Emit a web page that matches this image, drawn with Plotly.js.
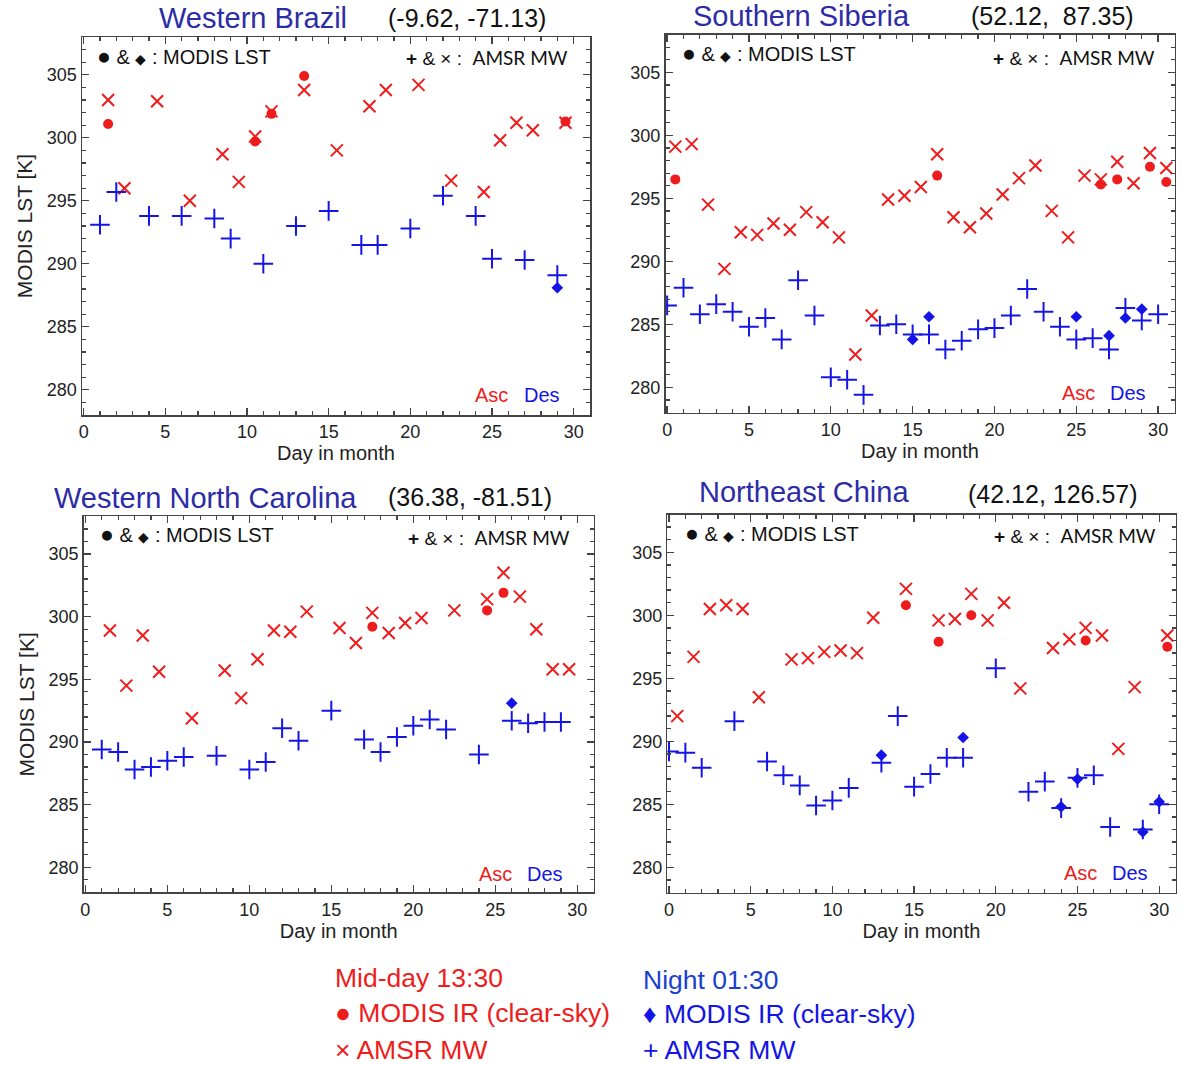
<!DOCTYPE html>
<html>
<head>
<meta charset="utf-8">
<script src="https://cdn.plot.ly/plotly-3.0.1.min.js"></script>
<style>html,body{margin:0;padding:0;background:#fff;}#chart{width:1182px;height:1065px;}</style>
</head>
<body>
<div id="chart"></div>
<script>
// ---------------- DATA ----------------
// Panel 1: Western Brazil
const brAscMwDay = [1.5,2.5,4.5,6.5,8.5,9.5,10.5,11.5,13.5,15.5,17.5,18.5,20.5,22.5,24.5,25.5,26.5,27.5,29.5];
const brAscMwK   = [303.0,296.0,302.9,295.0,298.7,296.5,300.1,302.1,303.8,299.0,302.5,303.8,304.2,296.6,295.7,299.8,301.2,300.6,301.2];
const brAscModisDay = [1.5,10.5,11.5,13.5,29.5];
const brAscModisK   = [301.1,299.7,301.9,304.9,301.3];
const brDesMwDay = [1,2,4,6,8,9,11,13,15,17,18,20,22,24,25,27,29];
const brDesMwK   = [293.1,295.7,293.8,293.8,293.6,292.0,290.0,293.0,294.2,291.5,291.5,292.8,295.4,293.8,290.4,290.3,289.1];
const brDesModisDay = [29];
const brDesModisK   = [288.1];

// Panel 2: Southern Siberia
const siAscMwDay = [0.5,1.5,2.5,3.5,4.5,5.5,6.5,7.5,8.5,9.5,10.5,11.5,12.5,13.5,14.5,15.5,16.5,17.5,18.5,19.5,20.5,21.5,22.5,23.5,24.5,25.5,26.5,27.5,28.5,29.5,30.5];
const siAscMwK   = [299.1,299.3,294.5,289.4,292.3,292.1,293.0,292.5,293.9,293.1,291.9,282.6,285.7,294.9,295.2,295.9,298.5,293.5,292.7,293.8,295.3,296.6,297.6,294.0,291.9,296.8,296.5,297.9,296.2,298.6,297.4];
const siAscModisDay = [0.5,16.5,26.5,27.5,29.5,30.5];
const siAscModisK   = [296.5,296.8,296.1,296.5,297.5,296.3];
const siDesMwDay = [0,1,2,3,4,5,6,7,8,9,10,11,12,13,14,15,16,17,18,19,20,21,22,23,24,25,26,27,28,29,30];
const siDesMwK   = [286.5,287.9,285.8,286.6,286.0,284.8,285.5,283.8,288.5,285.7,280.8,280.6,279.4,284.9,285.0,284.2,284.2,283.0,283.7,284.6,284.7,285.7,287.8,286.0,284.8,283.8,283.9,283.0,286.3,285.3,285.8];
const siDesModisDay = [15,16,25,27,28,29];
const siDesModisK   = [283.8,285.6,285.6,284.1,285.5,286.2];

// Panel 3: Western North Carolina
const ncAscMwDay = [1.5,2.5,3.5,4.5,6.5,8.5,9.5,10.5,11.5,12.5,13.5,15.5,16.5,17.5,18.5,19.5,20.5,22.5,24.5,25.5,26.5,27.5,28.5,29.5];
const ncAscMwK   = [298.9,294.5,298.5,295.6,291.9,295.7,293.5,296.6,298.9,298.8,300.4,299.1,297.9,300.3,298.7,299.5,299.9,300.5,301.4,303.5,301.6,299.0,295.8,295.8];
const ncAscModisDay = [17.5,24.5,25.5];
const ncAscModisK   = [299.2,300.5,301.9];
const ncDesMwDay = [1,2,3,4,5,6,8,10,11,12,13,15,17,18,19,20,21,22,24,26,27,28,29];
const ncDesMwK   = [289.4,289.2,287.8,288.0,288.5,288.8,288.9,287.8,288.4,291.1,290.1,292.5,290.2,289.2,290.4,291.3,291.8,291.0,289.0,291.7,291.5,291.6,291.6];
const ncDesModisDay = [26];
const ncDesModisK   = [293.1];

// Panel 4: Northeast China
const ceAscMwDay = [0.5,1.5,2.5,3.5,4.5,5.5,7.5,8.5,9.5,10.5,11.5,12.5,14.5,16.5,17.5,18.5,19.5,20.5,21.5,23.5,24.5,25.5,26.5,27.5,28.5,30.5];
const ceAscMwK   = [292.0,296.7,300.5,300.8,300.5,293.5,296.5,296.6,297.1,297.2,297.0,299.8,302.1,299.6,299.7,301.7,299.6,301.0,294.2,297.4,298.1,299.0,298.4,289.4,294.3,298.4];
const ceAscModisDay = [14.5,16.5,18.5,25.5,30.5];
const ceAscModisK   = [300.8,297.9,300.0,298.0,297.5];
const ceDesMwDay = [0,1,2,4,6,7,8,9,10,11,13,14,15,16,17,18,20,22,23,24,25,26,27,29,30];
const ceDesMwK   = [289.2,289.1,287.9,291.6,288.4,287.3,286.5,284.9,285.3,286.3,288.3,292.0,286.4,287.4,288.7,288.7,295.8,286.0,286.8,284.7,287.1,287.3,283.2,283.0,285.0];
const ceDesModisDay = [13,18,24,25,29,30];
const ceDesModisK   = [288.9,290.3,284.8,287.0,282.8,285.2];

const panelNames  = ["Western Brazil","Southern Siberia","Western North Carolina","Northeast China"];
const panelCoords = ["(-9.62, -71.13)","(52.12,  87.35)","(36.38, -81.51)","(42.12, 126.57)"];
const xTitle = "Day in month";
const yTitle = "MODIS LST [K]";

// ---------------- LAYOUT ----------------
const W = 1182, H = 1065;
const RED = '#ee1c1c', BLUE = '#1414e6', NAVY = '#2c2ca6', AX = '#444';
const px = v => v / W;
const py = v => 1 - v / H;

// plot frames in pixels [left,right,top,bottom]
const frames = [
  [82, 590, 37, 415],
  [665.5, 1174.5, 34.5, 412.5],
  [83.7, 593.7, 516.4, 892.4],
  [667.4, 1175.5, 514.5, 892.5]
];

const series = [
  [brAscMwDay,brAscMwK,brAscModisDay,brAscModisK,brDesMwDay,brDesMwK,brDesModisDay,brDesModisK],
  [siAscMwDay,siAscMwK,siAscModisDay,siAscModisK,siDesMwDay,siDesMwK,siDesModisDay,siDesModisK],
  [ncAscMwDay,ncAscMwK,ncAscModisDay,ncAscModisK,ncDesMwDay,ncDesMwK,ncDesModisDay,ncDesModisK],
  [ceAscMwDay,ceAscMwK,ceAscModisDay,ceAscModisK,ceDesMwDay,ceDesMwK,ceDesModisDay,ceDesModisK]
];

const FONT = 'Liberation Sans, Arial, sans-serif';
const data = [];
const layout = {
  width: W, height: H,
  margin: {l:0, r:0, t:0, b:0},
  paper_bgcolor: '#fff', plot_bgcolor: '#fff',
  showlegend: false,
  font: {family: FONT, color: '#222'},
  annotations: []
};

series.forEach((s, i) => {
  const n = i + 1;
  const xa = 'x' + (n === 1 ? '' : n), ya = 'y' + (n === 1 ? '' : n);
  data.push({x: s[0], y: s[1], xaxis: xa, yaxis: ya, type: 'scatter', mode: 'markers', name: 'AMSR MW Asc',
    marker: {symbol: 'x-thin', size: 12, color: RED, line: {color: RED, width: 2}}});
  data.push({x: s[2], y: s[3], xaxis: xa, yaxis: ya, type: 'scatter', mode: 'markers', name: 'MODIS Asc',
    marker: {symbol: 'circle', size: 10, color: RED, line: {width: 0}}});
  data.push({x: s[4], y: s[5], xaxis: xa, yaxis: ya, type: 'scatter', mode: 'markers', name: 'AMSR MW Des',
    marker: {symbol: 'cross-thin', size: 14, color: BLUE, line: {color: BLUE, width: 2}}});
  data.push({x: s[6], y: s[7], xaxis: xa, yaxis: ya, type: 'scatter', mode: 'markers', name: 'MODIS Des',
    marker: {symbol: 'diamond', size: 9, color: BLUE, line: {width: 0}}});

  const f = frames[i];
  const common = {
    showline: true, linecolor: AX, linewidth: 1.5, mirror: 'allticks',
    ticks: 'inside', ticklen: 7, tickwidth: 1.3, tickcolor: AX,
    showgrid: false, zeroline: false, automargin: false,
    tickfont: {family: FONT, size: 18, color: '#222'}
  };
  layout['xaxis' + (n === 1 ? '' : n)] = Object.assign({}, common, {
    anchor: ya, domain: [px(f[0]), px(f[1])],
    range: [-0.1, 31], tickmode: 'linear', tick0: 0, dtick: 5,
    minor: {dtick: 1, ticks: 'inside', ticklen: 4, tickwidth: 1.2, tickcolor: AX, showgrid: false},
    title: {text: xTitle, font: {family: FONT, size: 20, color: '#222'}, standoff: 4}
  });
  layout['yaxis' + (n === 1 ? '' : n)] = Object.assign({}, common, {
    anchor: xa, domain: [py(f[3]), py(f[2])],
    range: [278, 308], tickmode: 'linear', tick0: 280, dtick: 5,
    minor: {dtick: 1, ticks: 'inside', ticklen: 4, tickwidth: 1.2, tickcolor: AX, showgrid: false},
    title: (i % 2 === 0) ? {text: yTitle, font: {family: FONT, size: 21, color: '#222'}, standoff: 8} : {text: ''}
  });
});

function ann(text, x, y, opts) {
  layout.annotations.push(Object.assign({
    text: text, xref: 'paper', yref: 'paper', x: px(x), y: py(y),
    xanchor: 'center', yanchor: 'middle', showarrow: false,
    font: {family: FONT, size: 18, color: '#111'}
  }, opts || {}));
}

// panel titles
const titlePos = [[253,18,467,18],[801,16,1052,16],[205,498,470,497],[804,492,1053,494]];
titlePos.forEach((t, i) => {
  ann(panelNames[i], t[0], t[1], {font: {family: FONT, size: 29, color: NAVY}});
  ann(panelCoords[i], t[2], t[3], {font: {family: FONT, size: 25, color: '#111'}});
});

// in-plot keys
const keyPos = [[95,56,570,57,491,395,542],[680,53,1157,57,1078,393,1128],[98,534,572,537,495,874,545],[683,533,1158,535,1080,873,1130]];
keyPos.forEach(k => {
  ann('<span style="font-size:23px">●</span> & <span style="font-size:14px">◆</span> : MODIS LST', k[0], k[1], {xanchor: 'left', font: {family: FONT, size: 20, color: '#111'}});
  ann('<b>+</b> & × :  <span style="font-family:Lato">AMSR MW</span>', k[2], k[3], {xanchor: 'right', font: {family: FONT, size: 19, color: '#111'}});
  ann('Asc', k[4], k[5], {font: {family: FONT, size: 20, color: RED}});
  ann('Des', k[6], k[5], {font: {family: FONT, size: 20, color: BLUE}});
});

// bottom legend
const LG = 26.5;
ann('Mid-day 13:30', 333, 978, {xanchor: 'left', font: {family: FONT, size: LG, color: RED}});
ann('● MODIS IR (clear-sky)', 333, 1013, {xanchor: 'left', font: {family: FONT, size: LG, color: RED}});
ann('× AMSR MW', 333, 1050, {xanchor: 'left', font: {family: FONT, size: LG, color: RED}});
ann('Night 01:30', 641, 980, {xanchor: 'left', font: {family: FONT, size: LG, color: '#1a3fcf'}});
ann('♦ MODIS IR (clear-sky)', 641, 1014, {xanchor: 'left', font: {family: FONT, size: LG, color: BLUE}});
ann('+ AMSR MW', 641, 1050, {xanchor: 'left', font: {family: FONT, size: LG, color: BLUE}});

Plotly.newPlot('chart', data, layout, {displayModeBar: false, staticPlot: true});
</script>
</body>
</html>
